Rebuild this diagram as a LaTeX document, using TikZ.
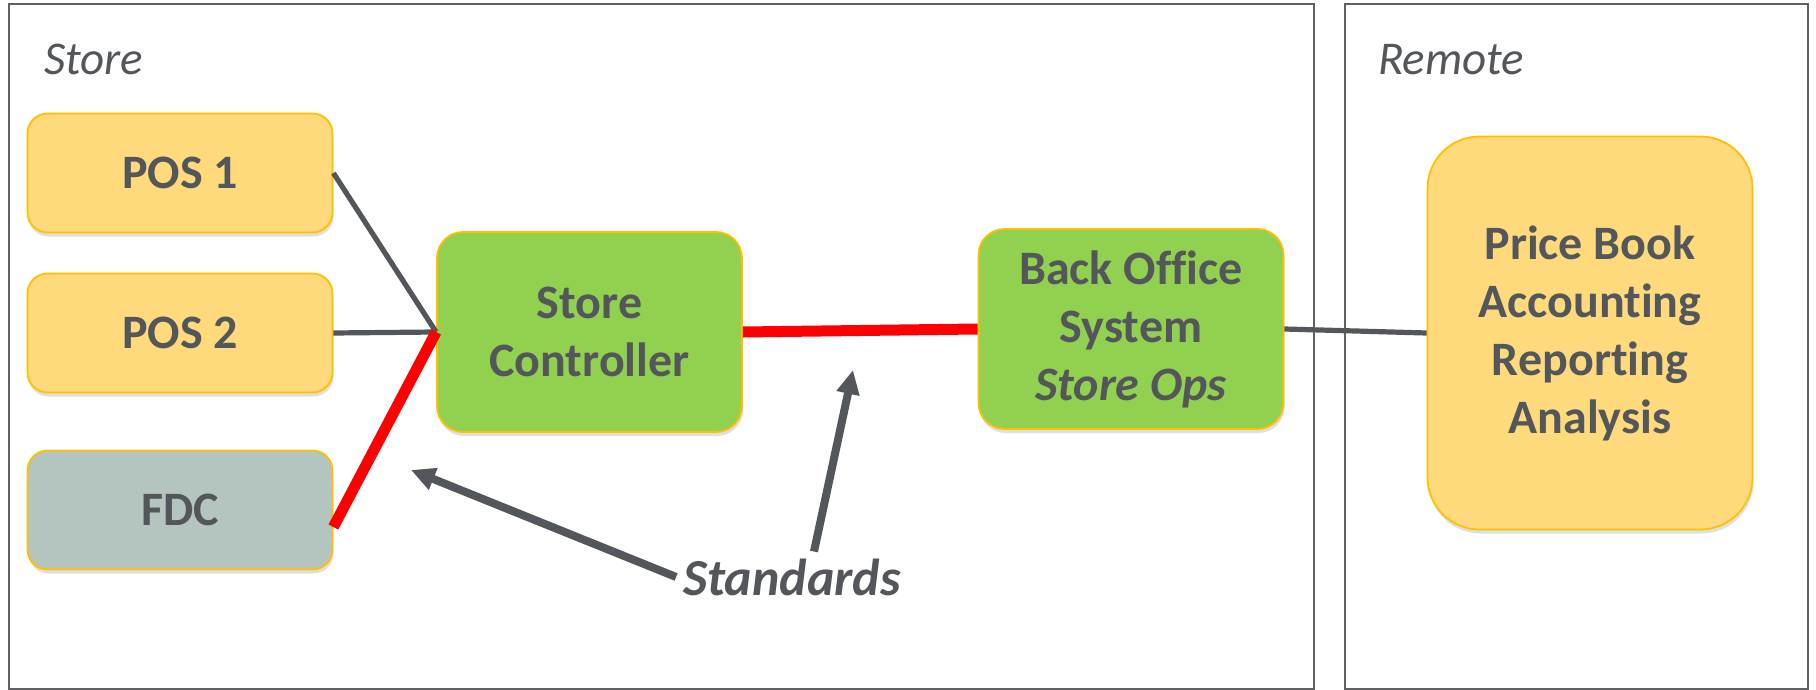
\documentclass[tikz,border=0pt]{standalone}
\usepackage{fontspec}
\setmainfont{Carlito}[Ligatures=NoCommon]
\usetikzlibrary{arrows.meta,positioning,shadows}

\definecolor{txtgray}{RGB}{83,86,90}
\definecolor{framegray}{RGB}{95,97,100}
\definecolor{posyellow}{RGB}{255,218,124}
\definecolor{boxgold}{RGB}{255,192,0}
\definecolor{ctrlgreen}{RGB}{146,208,80}
\definecolor{fdcgray}{RGB}{180,196,190}

\begin{document}
\begin{tikzpicture}[x=0.5pt,y=-0.5pt,>={Triangle[length=12pt,width=11pt]},
                    every node/.style={text=txtgray,font=\fontsize{24}{29}\selectfont\bfseries},
                    box node/.style={rectangle,rounded corners=10pt,draw=boxgold,line width=0.9pt,
                      align=center,inner sep=0pt,
                      drop shadow={opacity=0.25,shadow xshift=0.5pt,shadow yshift=-2pt}},
                    pos node/.style={box node,fill=posyellow,minimum width=152.5pt,minimum height=59.5pt},
                    ctrl node/.style={box node,fill=ctrlgreen,rounded corners=13pt,
                      minimum width=152.5pt,minimum height=100pt},
                    area label/.style={anchor=base west,font=\fontsize{23.5}{28}\selectfont\itshape},
                    link/.style={draw=txtgray,line width=2.6pt},
                    std link/.style={draw=red,line width=5.5pt},
                    pointer/.style={->,draw=txtgray,line width=4pt}]
  \useasboundingbox (0,0) rectangle (1816,690);

  % store and remote areas
  \draw[framegray,line width=1pt] (9,4) rectangle (1314,689);
  \draw[framegray,line width=1pt] (1345,4) rectangle (1808,689);
  \node[area label] (storelbl) at (37,75) {Store};
  \node[area label] (remotelbl) at (1371,75) {Remote};

  \node[pos node] (pos1) at (180,173) {POS 1};
  \node[pos node] (pos2) at (180,333) {POS 2};
  \node[pos node,fill=fdcgray] (fdc) at (180,510) {FDC};
  \node[ctrl node] (ctrl) at (589.5,332) {Store\\Controller};
  \node[ctrl node] (bos) at (1131,329) {Back Office\\System\\\textit{Store Ops}};
  \node[pos node,rounded corners=26pt,minimum width=162.5pt,minimum height=196.5pt]
    (remote) at (1590,333) {Price Book\\Accounting\\Reporting\\Analysis};

  \path (pos1.east) edge [link] (ctrl.west)
        (pos2.east) edge [link] (ctrl.west)
        ([yshift=-8.5pt]fdc.east) edge [std link] (ctrl.west)
        (ctrl.east) edge [std link] (bos.west)
        (bos.east) edge [link] (remote.west);

  % standards callout
  \node[font=\fontsize{26}{30}\selectfont\bfseries\itshape] (std) at (792,577) {Standards};
  \coordinate (fdcgap) at (411,470);
  \coordinate (ctrlgap) at (853,370);
  \draw[pointer] (std.west) -- (fdcgap);
  \draw[pointer] ([xshift=11pt]std.north) -- (ctrlgap);
\end{tikzpicture}
\end{document}
